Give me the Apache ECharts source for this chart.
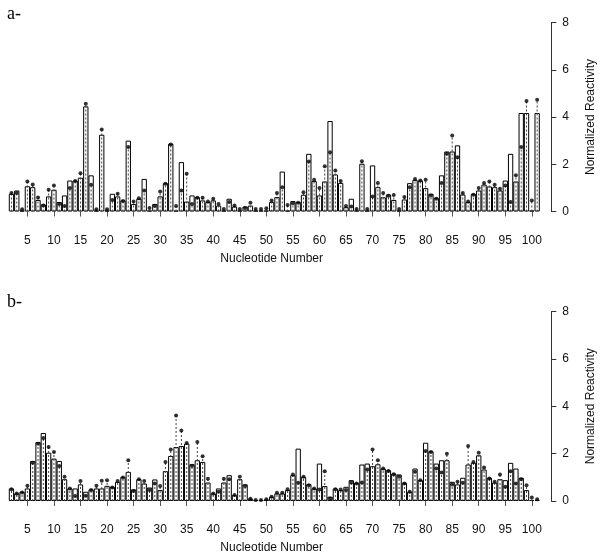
<!DOCTYPE html>
<html>
<head>
<meta charset="utf-8">
<script src="https://cdn.jsdelivr.net/npm/echarts@6/dist/echarts.min.js"></script>
<style>
html,body{margin:0;padding:0;background:#fff;}
#chart{width:600px;height:553px;}
</style>
</head>
<body>
<div id="chart"></div>
<script>
// Nucleotide numbers 1..101
const nucleotides = Array.from({length: 101}, (_, i) => String(i + 1));
const yTicks = [0, 2, 4, 6, 8];

// Panel a: bars (series 1) and dots (series 2), nucleotides 1..101
const barsA = [null,
  0.75,0.89,0.04,1.07,1.03,0.49,0.30,0.64,0.92,0.40,
  0.68,1.31,1.31,1.43,4.45,1.53,0.04,3.25,0.04,0.75,
  0.64,0.47,3.00,0.32,0.54,1.38,0.04,0.32,0.64,1.20,
  2.87,0.04,2.09,0.42,0.68,0.61,0.47,0.40,0.47,0.25,
  0.04,0.54,0.21,0.04,0.21,0.25,0.04,0.04,0.04,0.40,
  0.61,1.69,0.04,0.44,0.40,0.71,2.44,1.29,0.68,1.27,
  3.83,1.57,1.21,0.18,0.54,0.04,2.02,0.04,1.95,1.03,
  0.60,0.72,0.49,0.04,0.51,1.20,1.34,1.31,0.99,0.75,
  0.58,1.53,2.54,2.54,2.80,0.72,0.40,0.75,0.89,1.14,
  1.06,1.03,0.89,1.31,2.44,1.27,4.17,4.17,0.04,4.17];
const dotsA = [null,
  0.78,0.78,0.10,1.27,1.14,0.59,0.25,0.92,1.10,0.32,
  0.23,1.00,1.29,1.62,4.56,1.13,0.10,3.47,0.10,0.49,
  0.75,0.44,2.73,0.42,0.56,0.89,0.15,0.23,0.85,1.17,
  2.84,0.23,0.89,1.60,0.32,0.58,0.58,0.42,0.54,0.32,
  0.11,0.40,0.25,0.11,0.15,0.37,0.11,0.11,0.14,0.47,
  0.78,1.03,0.28,0.35,0.37,0.82,2.12,1.34,0.99,1.92,
  2.51,1.74,1.29,0.23,0.21,0.11,2.13,0.11,0.64,1.21,
  0.78,0.67,0.70,0.11,0.61,1.03,1.38,1.31,1.34,0.68,
  0.54,1.21,2.44,3.22,2.30,0.78,0.42,0.71,0.99,1.21,
  1.27,1.13,0.96,1.10,0.40,1.53,2.73,4.68,0.47,4.73];

// Panel b
const barsB = [null,
  0.53,0.32,0.39,0.53,1.69,2.49,2.87,2.04,1.79,1.69,
  0.92,0.53,0.53,0.70,0.39,0.49,0.53,0.53,0.64,0.60,
  0.81,1.02,1.23,0.49,0.92,0.74,0.57,0.91,0.46,1.26,
  1.90,2.28,2.32,2.42,1.55,1.72,1.65,0.78,0.32,0.53,
  0.78,1.09,0.25,0.92,0.70,0.10,0.04,0.04,0.06,0.18,
  0.32,0.32,0.46,1.09,2.21,1.02,0.71,0.53,1.58,0.63,
  0.18,0.53,0.46,0.60,0.88,0.77,1.54,1.58,1.47,1.55,
  1.37,1.30,1.16,1.12,0.77,0.39,1.37,0.88,2.46,2.10,
  1.58,1.72,1.72,0.81,0.70,0.98,1.54,1.62,1.93,1.33,
  0.98,0.78,0.92,0.88,1.61,1.37,0.98,0.46,0.04,0.04];
const dotsB = [null,
  0.50,0.32,0.36,0.64,1.62,2.42,2.66,2.28,2.07,1.48,
  1.02,0.53,0.21,0.84,0.22,0.46,0.64,0.85,0.88,0.57,
  0.84,0.99,1.72,0.42,0.92,0.84,0.46,0.74,0.63,1.65,
  2.17,3.61,2.98,2.45,1.49,2.49,1.89,0.94,0.32,0.39,
  0.94,0.92,0.25,1.02,0.63,0.10,0.04,0.04,0.07,0.18,
  0.35,0.35,0.50,1.12,0.77,1.02,0.66,0.53,0.49,1.26,
  0.11,0.50,0.49,0.46,0.78,0.74,0.78,1.33,2.17,1.72,
  1.37,1.27,1.13,1.02,0.74,0.39,1.23,0.88,2.11,2.07,
  1.37,1.20,2.00,0.70,0.81,0.77,2.32,1.65,2.04,1.41,
  0.95,0.81,1.12,0.60,1.26,0.74,0.92,0.67,0.15,0.07];

const FONT = 'Liberation Sans, Arial, sans-serif';
const every5 = (idx) => (idx + 1) % 5 === 0;

function xAxisCfg(gridIndex) {
  return {
    type: 'category', gridIndex, data: nucleotides, offset: 2,
    axisLine: {show: false},
    axisTick: {show: true, interval: every5, alignWithLabel: true, length: 5, lineStyle: {color: '#555', width: 1}},
    axisLabel: {interval: every5, margin: 21, fontSize: 12, color: '#111', fontFamily: FONT},
    name: 'Nucleotide Number', nameLocation: 'middle', nameGap: 39,
    nameTextStyle: {fontSize: 12, color: '#111', fontFamily: FONT},
    splitLine: {show: false}
  };
}
function yAxisCfg(gridIndex) {
  return {
    type: 'value', gridIndex, position: 'right', offset: 11.5,
    min: yTicks[0], max: yTicks[yTicks.length - 1], interval: 2,
    axisLine: {show: true, lineStyle: {color: '#333', width: 1}},
    axisTick: {show: true, length: 5, lineStyle: {color: '#333'}},
    axisLabel: {margin: 11, fontSize: 12, color: '#111', fontFamily: FONT},
    splitLine: {show: false},
    name: 'Normalized Reactivity', nameLocation: 'middle', nameRotate: 90, nameGap: 33,
    nameTextStyle: {fontSize: 12, color: '#111', fontFamily: FONT}
  };
}
function dashRender(params, api) {
  const x = api.value(0), v = api.value(1);
  if (v == null || isNaN(v)) return null;
  const p0 = api.coord([x, 0]);
  const p1 = api.coord([x, v]);
  return {type: 'line', shape: {x1: p0[0], y1: p0[1], x2: p1[0], y2: p1[1]},
    style: {stroke: '#444', lineWidth: 1, lineDash: [2, 2]}};
}
function seriesFor(idx, bars, dots) {
  return [
    {type: 'bar', xAxisIndex: idx, yAxisIndex: idx, data: bars, barCategoryGap: '0%',
     itemStyle: {color: '#fff', borderColor: '#000', borderWidth: 1}, z: 2, silent: true},
    {type: 'custom', xAxisIndex: idx, yAxisIndex: idx, renderItem: dashRender,
     data: dots.map((v, i) => [i, v]), encode: {x: 0, y: 1}, z: 3, silent: true},
    {type: 'scatter', xAxisIndex: idx, yAxisIndex: idx, data: dots, symbol: 'circle', symbolSize: 4,
     itemStyle: {color: '#000'}, z: 4, silent: true}
  ];
}

const chart = echarts.init(document.getElementById('chart'), null, {renderer: 'canvas'});
chart.setOption({
  animation: false,
  backgroundColor: '#fff',
  title: [
    {text: 'a-', left: 2, top: 0, textStyle: {fontFamily: 'Liberation Serif, serif', fontSize: 18, fontWeight: 'normal', color: '#000'}},
    {text: 'b-', left: 2, top: 288, textStyle: {fontFamily: 'Liberation Serif, serif', fontSize: 18, fontWeight: 'normal', color: '#000'}}
  ],
  grid: [
    {left: 3.5, right: 60.2, top: 22.5, height: 189, containLabel: false, outerBoundsMode: 'none'},
    {left: 3.5, right: 60.2, top: 311.5, height: 189.5, containLabel: false, outerBoundsMode: 'none'}
  ],
  xAxis: [xAxisCfg(0), xAxisCfg(1)],
  yAxis: [yAxisCfg(0), yAxisCfg(1)],
  series: [...seriesFor(0, barsA, dotsA), ...seriesFor(1, barsB, dotsB)]
});
</script>
</body>
</html>
